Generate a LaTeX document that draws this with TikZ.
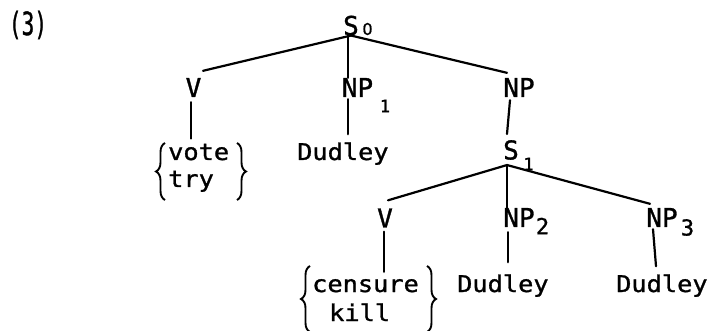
\documentclass[tikz,border=0pt]{standalone}
\usepackage{fontspec}
\usepackage{graphicx}
\usetikzlibrary{calc,decorations.pathreplacing}
\newfontfamily\wordfont[FakeStretch=1.1,FakeBold=1.2]{DejaVu Sans Mono}
\newfontfamily\catfont[FakeBold=1.2]{DejaVu Sans Mono}
\newfontfamily\plainfont[FakeBold=1.2]{DejaVu Sans}
\begin{document}
\begin{tikzpicture}[x=1pt,y=-1pt,
  catlab/.style={inner sep=0pt, font=\catfont\fontsize{26}{26}\selectfont},
  wordlab/.style={inner sep=0pt, anchor=base west, font=\wordfont\fontsize{23}{27}\selectfont},
  subs/.style={inner sep=0pt, font=\catfont\fontsize{17}{17}\selectfont},
  bigsubs/.style={inner sep=0pt, font=\catfont\fontsize{22}{22}\selectfont},
  branch/.style={line width=2.2pt, line cap=round},
  brc/.style={line width=1.9pt, decorate, decoration={brace, amplitude=9pt}}]
\useasboundingbox[fill=white] (0,0) rectangle (712,331);

% example number
\node[catlab, font=\catfont\fontsize{32}{32}\selectfont] (lab) at (28,25) {\scalebox{0.66}[1]{(3)}};

% top level
\node[catlab] (s0) at (351,25.5) {S};
\node[subs, font=\plainfont\fontsize{16}{16}\selectfont] (s0sub) at (367.5,29) {0};
\node[catlab] (v1) at (193.5,87.5) {V};
\node[catlab] (np1) at (357.5,87.5) {NP};
\node[subs] (np1sub) at (385,106) {1};
\node[catlab] (np) at (519,87.5) {NP};
\node[wordlab] (vote) at (168,160) {vote};
\node[wordlab] (try) at (168,187) {try};
\node[wordlab] (dud1) at (297,160) {Dudley};

% embedded clause
\node[catlab] (s1) at (511,150) {S};
\node[subs] (s1sub) at (528.5,164) {1};
\node[catlab] (v2) at (385,218) {V};
\node[catlab] (np2) at (519,217.5) {NP};
\node[bigsubs] (np2sub) at (542.5,226) {2};
\node[catlab] (np3) at (662,217.5) {NP};
\node[bigsubs] (np3sub) at (687.5,227.5) {3};
\node[wordlab] (cens) at (312,292) {censure};
\node[wordlab] (kill) at (329,321) {kill};
\node[wordlab] (dud2) at (457,292) {Dudley};
\node[wordlab] (dud3) at (616,292) {Dudley};

% branches of S0
\draw[branch] (s0.south) -- ($(v1.north)+(9.5pt,7pt)$);
\draw[branch] ($(s0.south)+(-3pt,0pt)$) -- ($(np1.north)+(-9.5pt,0pt)$);
\draw[branch] (s0.south) -- ($(np.north)+(-12pt,5pt)$);
\draw[branch] ($(v1.south)+(-2.5pt,-5pt)$) -- ($(v1.south |- vote.north)+(-2.5pt,5pt)$);
\draw[branch] ($(np1.south)+(-9.5pt,-2pt)$) -- ($(np1.south |- dud1.north)+(-9.5pt,8pt)$);
\draw[branch] ($(np.south)+(-9pt,-3pt)$) -- ($(s1.north)+(-4pt,6pt)$);

% branches of S1
\coordinate (s1a) at ($(s1.south)+(-4pt,-5pt)$);
\draw[branch] (s1a) -- ($(v2.north)+(3pt,8pt)$);
\draw[branch] (s1a) -- ($(np2.north)+(-12pt,-2pt)$);
\draw[branch] (s1a) -- ($(np3.north)+(-12pt,4pt)$);
\draw[branch] ($(v2.south)+(-1pt,-4pt)$) -- ($(v2.south |- cens.north)+(-1pt,7pt)$);
\draw[branch] ($(np2.south)+(-11pt,-5pt)$) -- ($(np2.south |- dud2.north)+(-11pt,12pt)$);
\draw[branch] ($(np3.south)+(-9pt,-2pt)$) -- ($(np3.south |- dud3.north)+(-6pt,8pt)$);

% braces
\draw[brc] (165,200) -- (165,143);
\draw[brc] (237,143) -- (237,200);
\draw[brc] (310,332) -- (310,266);
\draw[brc] (427,266) -- (427,332);
\end{tikzpicture}
\end{document}
